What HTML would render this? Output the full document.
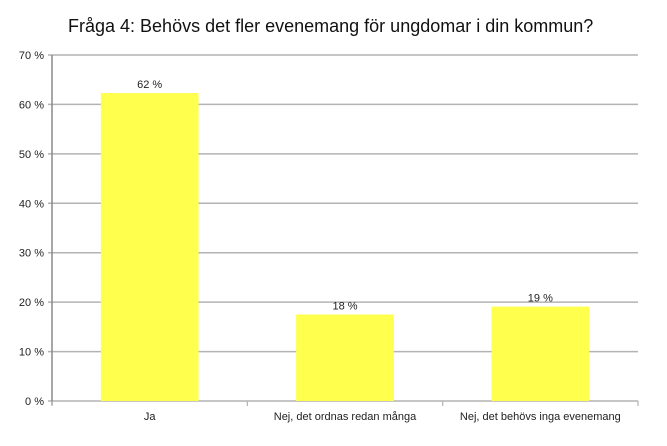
<!DOCTYPE html>
<html><head><meta charset="utf-8"><style>
body{margin:0;background:#fff;width:667px;height:441px;overflow:hidden;font-family:"Liberation Sans",Arial,sans-serif}
</style></head><body>
<svg width="667" height="441" xmlns="http://www.w3.org/2000/svg">
<text x="68" y="32" font-size="18" fill="#111">Fråga 4: Behövs det fler evenemang för ungdomar i din kommun?</text>
<g id="grid"></g><g id="bars"></g><g id="axes"></g>
</svg>
<script>
const categories=["Ja","Nej, det ordnas redan många","Nej, det behövs inga evenemang"];
const values=[62.3,17.5,19.1];
const valueLabels=["62 %","18 %","19 %"];
const yTicks=[0,10,20,30,40,50,60,70];
const X0=52,X1=638,Y0=401,Y1=55,YMAX=70;
const ns="http://www.w3.org/2000/svg";
function y(v){return Y0-(v/YMAX)*(Y0-Y1);}
const bw=(X1-X0)/categories.length;
function xc(i){return X0+bw*(i+0.5);}
function mk(t,a,p){const e=document.createElementNS(ns,t);for(const k in a)e.setAttribute(k,a[k]);p.appendChild(e);return e;}
const grid=document.getElementById('grid'),bars=document.getElementById('bars'),axes=document.getElementById('axes');
yTicks.forEach(v=>{
 const l=mk('line',{x1:X0-4,x2:X1,y1:y(v),y2:y(v),stroke:'#b3b3b3','stroke-width':1.5},grid);
 
 
 const t=mk('text',{x:44,y:y(v)+4,'text-anchor':'end','font-size':11,fill:'#222'},axes);
 t.textContent=v+' %';
 
 
});
const ax=mk('line',{x1:X0,x2:X0,y1:Y1,y2:Y0+4,stroke:'#888','stroke-width':1.5},axes);


for(let i=0;i<=categories.length;i++){
 const tk=mk('line',{x1:X0+bw*i,x2:X0+bw*i,y1:Y0,y2:Y0+5,stroke:'#b3b3b3','stroke-width':1.2},axes);
 
 
}
categories.forEach((c,i)=>{
 const w=bw*0.5;
 const r=mk('rect',{x:xc(i)-w/2,y:y(values[i]),width:w,height:Y0-y(values[i]),fill:'#ffff4d'},bars);
 
 
 const vl=mk('text',{x:xc(i),y:y(values[i])-5,'text-anchor':'middle','font-size':11,fill:'#222'},bars);
 vl.textContent=valueLabels[i];
 
 
 const cl=mk('text',{x:xc(i),y:420,'text-anchor':'middle','font-size':11,fill:'#222'},axes);
 cl.textContent=c;
 
 
});
</script>
</body></html>
